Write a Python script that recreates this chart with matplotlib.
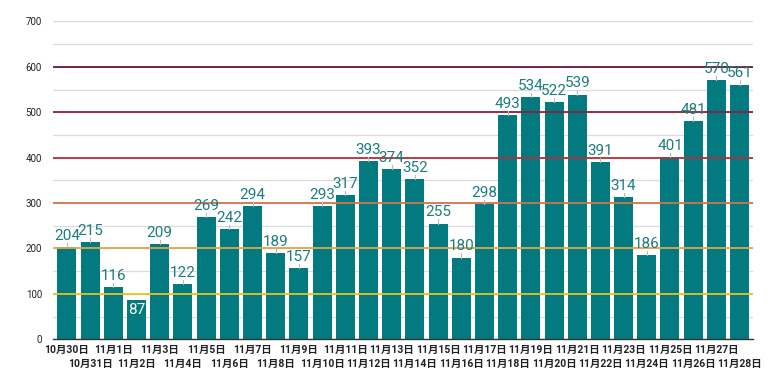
import matplotlib
matplotlib.use("Agg")
import matplotlib.pyplot as plt
import matplotlib.transforms as mtransforms
import numpy as np

plt.rcParams['font.family'] = ['Roboto', 'Noto Sans CJK JP', 'DejaVu Sans']

# データ
dates = ['10月30日', '10月31日'] + ['11月%d日' % d for d in range(1, 29)]
counts = [204, 215, 116, 87, 209, 122, 269, 242, 294, 189,
          157, 293, 317, 393, 374, 352, 255, 180, 298, 493,
          534, 522, 539, 391, 314, 186, 401, 481, 570, 561]
levels = [100, 200, 300, 400, 500, 600]
level_colors = ['#e6c41c', '#e2a646', '#d2744e', '#b0303a', '#8a2235', '#6c173f']

fig = plt.figure(figsize=(7.8, 3.9), dpi=100)
ax = fig.add_axes([0.068, 0.13, 0.898, 0.815])

x = np.arange(len(counts))
ax.set_axisbelow(True)
bars = ax.bar(x, counts, width=0.82, color='#037a80', zorder=2)

for lv, c in zip(levels, level_colors):
    ax.axhline(lv, color=c, linewidth=1.3, zorder=3)

# 数値ラベル
for xi, v in zip(x, counts):
    if v < 100:
        ax.text(xi, v - 8, str(v), ha='center', va='top', color='white',
                fontsize=11, zorder=4)
    else:
        ax.plot([xi, xi], [v, v + 9], color='#bbbbbb', linewidth=0.8, zorder=4)
        ax.text(xi, v + 9, str(v), ha='center', va='bottom', color='#1c7c80',
                fontsize=11, zorder=4)

ax.set_xlim(-0.6, len(counts) - 0.4)
ax.set_ylim(0, 700)
ax.set_yticks(np.arange(0, 701, 100))
ax.set_yticks(np.arange(50, 701, 100), minor=True)
ax.yaxis.grid(True, which='both', color='#dcdcdc', linewidth=0.9)
ax.tick_params(axis='y', which='both', length=0, labelsize=7, colors='#222222', pad=8)

# 日付ラベル（2段）
ax.set_xticks(x)
ax.set_xticklabels([])
ax.tick_params(axis='x', length=0)
trans = mtransforms.blended_transform_factory(ax.transData, ax.transAxes)
for i, d in enumerate(dates):
    yy = -0.018 if i % 2 == 0 else -0.062
    ax.text(i, yy, d, transform=trans, ha='center', va='top', fontsize=7.5,
            fontweight='bold', color='#222222')

for s in ['top', 'right', 'left']:
    ax.spines[s].set_visible(False)
ax.spines['bottom'].set_color('#333333')
ax.spines['bottom'].set_linewidth(1.0)
ax.spines['bottom'].set_zorder(5)

fig.savefig('out.png', dpi=100)
